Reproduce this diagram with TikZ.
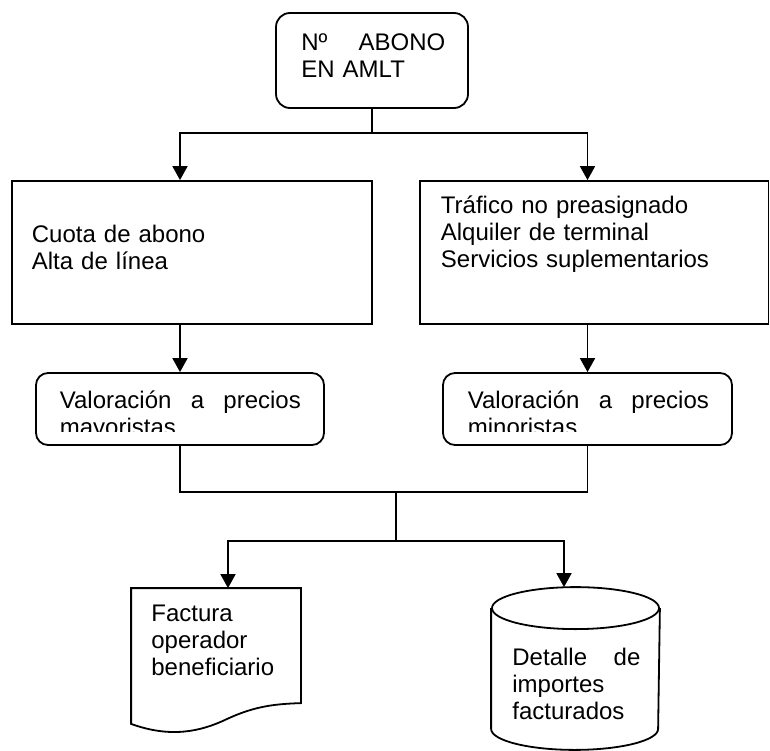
\documentclass[tikz,border=0pt]{standalone}
\usepackage{fontspec}
\setmainfont{Liberation Sans}
\usetikzlibrary{arrows.meta}

\begin{document}
\begin{tikzpicture}[x=1pt,y=1pt,>={Triangle[length=14pt,width=15pt]},line width=1.8pt]
  \tikzset{box/.style={draw,rectangle,inner sep=0pt},
           rbox/.style={box,rounded corners=14pt},
           hidden/.style={rectangle,inner sep=0pt},
           txt/.style={anchor=base west,inner sep=0pt,align=left,
                       font=\fontsize{24}{27}\selectfont}}
  \useasboundingbox (0,0) rectangle (770,-751);
  \node[rbox,minimum width=192pt,minimum height=95pt]   (abono)   at (372,-60.5)   {};
  \node[box,minimum width=360pt,minimum height=143pt]   (cuota)   at (192,-252.5)  {};
  \node[box,minimum width=348.5pt,minimum height=143pt] (trafico) at (594.25,-252.5) {};
  \node[rbox,rounded corners=12pt,minimum width=288pt,minimum height=72pt] (valmay) at (180,-409) {};
  \node[rbox,rounded corners=12pt,minimum width=289pt,minimum height=72pt] (valmin) at (587.5,-409) {};
  \node[hidden,minimum width=168pt,minimum height=134pt] (factura) at (216,-656)   {};
  \node[hidden,minimum width=167pt,minimum height=161pt] (detalle) at (575.5,-668.5) {};
  \coordinate (fork1) at (372,-133);
  \coordinate (fork2) at (396,-492);
  \coordinate (fork3) at (396,-541);

  \node[txt,text width=144pt] (abonotxt)   at (300.5,-50.7) {Nº\hfill ABONO\\EN AMLT};
  \node[txt,text width=300pt] (cuotatxt)   at (31,-242.7)   {Cuota de abono\\Alta de línea};
  \node[txt,text width=320pt] (traficotxt) at (440,-214)    {Tráfico no preasignado\\Alquiler de terminal\\Servicios suplementarios};
  \begin{scope}
    \clip (valmay.north west) rectangle (valmin.east |- 0,-431);
    \node[txt,text width=241pt] (valmaytxt) at (59,-408)  {Valoración\hfill a\hfill precios\\mayoristas};
    \node[txt,text width=241pt] (valmintxt) at (467,-408) {Valoración\hfill a\hfill precios\\minoristas};
  \end{scope}
  \node[txt,text width=140pt] (facturatxt) at (150.5,-621.7) {Factura\\operador\\beneficiario};
  \node[txt,text width=128pt] (detalletxt) at (511.5,-665)   {Detalle\hfill de\\importes\\facturados};

  \draw (factura.north west) -- (factura.north east) -- ++(0,-115)
        .. controls (275,-704) and (255,-706) .. (227,-719)
        .. controls (200,-732) and (170,-738) .. (factura.south west) -- cycle;
  \draw ([yshift=-21pt]detalle.north west) -- ([yshift=21pt]detalle.south west)
        arc[start angle=180,end angle=360,x radius=83.5,y radius=21]
        -- ([yshift=-21pt]detalle.north east);
  \draw ([yshift=-21pt]detalle.north) ellipse[x radius=83.5,y radius=21];

  \draw (abono.south) -- (fork1);
  \draw[->] (fork1) -| (cuota.north -| valmay.north);
  \draw[->] (fork1) -| (trafico.north -| valmin.north);
  \draw[->] (cuota.south -| valmay.north) -- (valmay.north);
  \draw[->] (trafico.south -| valmin.north) -- (valmin.north);
  \draw (valmay.south) |- (fork2) -| (valmin.south);
  \draw (fork2) -- (fork3);
  \draw[->] (fork3) -| ([xshift=12pt]factura.north);
  \draw[->] (fork3) -| ([xshift=-11.5pt]detalle.north);
\end{tikzpicture}
\end{document}
